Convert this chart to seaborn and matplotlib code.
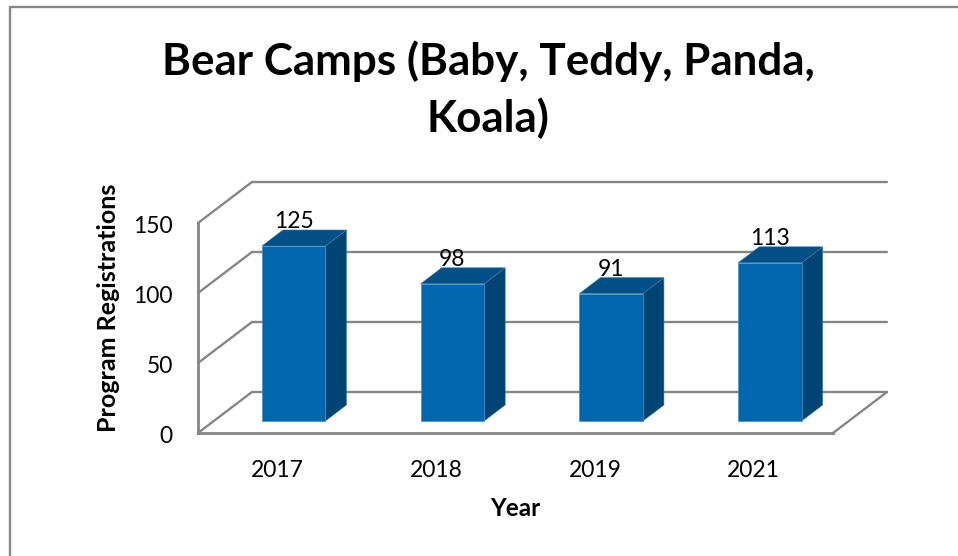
import matplotlib
matplotlib.use("Agg")
import matplotlib.pyplot as plt
from matplotlib.patches import Polygon
from matplotlib.transforms import ScaledTranslation
import seaborn as sns
import pandas as pd

years = ["2017", "2018", "2019", "2021"]
registrations = [125, 98, 91, 113]
y_ticks = [0, 50, 100, 150]
title = "Bear Camps (Baby, Teddy, Panda,\nKoala)"
x_label = "Year"
y_label = "Program Registrations"

W, H = 958, 556
FRONT, SIDE, TOP = "#0066AE", "#004473", "#004F87"
GRID = "#868686"

sns.set_theme(style="white")
plt.rcParams["font.family"] = ["Lato", "DejaVu Sans"]

fig = plt.figure(figsize=(W / 100, H / 100), dpi=100)
L, R, T, B = 198, 833, 223, 433
ax = fig.add_axes([L / W, 1 - B / H, (R - L) / W, (B - T) / H])
ax.patch.set_alpha(0)


def shifted(dx, dy):
    """Data transform moved by a pixel offset (dy measured downward)."""
    return ax.transData + ScaledTranslation(dx / 100, -dy / 100, fig.dpi_scale_trans)


df = pd.DataFrame({"year": years, "n": registrations})
sns.barplot(data=df, x="year", y="n", color=FRONT, saturation=1, width=63.5 / 158.75, ax=ax, zorder=4)
ax.set_xlim(-0.5, 3.5)
ax.set_ylim(0, 150)
ax.set_xlabel("")
ax.set_ylabel("")

WALL_DX, WALL_DY = 54, -41
wall = shifted(WALL_DX, WALL_DY)
to_data = ax.transData.inverted()


def through(tr_a, pa, tr_b, pb, **kw):
    a = to_data.transform(tr_a.transform(pa))
    b = to_data.transform(tr_b.transform(pb))
    ax.plot([a[0], b[0]], [a[1], b[1]], clip_on=False, color=GRID, lw=1.7,
            solid_capstyle="round", **kw)


for v in y_ticks:
    ax.plot([-0.5, 3.5], [v, v], color=GRID, lw=1.7, transform=wall, clip_on=False, zorder=1)
    through(ax.transData, (-0.5, v), wall, (-0.5, v), zorder=1)
through(ax.transData, (3.5, 0), wall, (3.5, 0), zorder=1)

ax.set_xlim(-0.5, 3.5)
ax.set_ylim(0, 150)
sns.despine(ax=ax, top=True, right=True)
for s in ("left", "bottom"):
    ax.spines[s].set_color(GRID)
    ax.spines[s].set_linewidth(2)
    ax.spines[s].set_zorder(2)

BAR_DX, BAR_DY = 16.3, -12
DEPTH_X, DEPTH_Y = 21, -16
bar_tr = shifted(BAR_DX, BAR_DY)
depth_tr = shifted(BAR_DX + DEPTH_X, BAR_DY + DEPTH_Y)


def pts(coords):
    return [to_data.transform(tr.transform(c)) for tr, c in coords]


for bar, v in zip(list(ax.patches), registrations):
    x, w = bar.get_x(), bar.get_width()
    bar.set_transform(bar_tr)
    bar.set_edgecolor("#4A90C4")
    bar.set_linewidth(0.5)
    bar.set_clip_on(False)
    side = pts([(bar_tr, (x + w, 0)), (bar_tr, (x + w, v)), (depth_tr, (x + w, v)), (depth_tr, (x + w, 0))])
    top = pts([(bar_tr, (x, v)), (bar_tr, (x + w, v)), (depth_tr, (x + w, v)), (depth_tr, (x, v))])
    ax.add_patch(Polygon(side, closed=True, fc=SIDE, ec="#3A7AAA", lw=0.4, zorder=3, clip_on=False))
    ax.add_patch(Polygon(top, closed=True, fc=TOP, ec="#3A7AAA", lw=0.4, zorder=3, clip_on=False))
    ax.text(x + w / 2, v, str(v), transform=shifted(BAR_DX, BAR_DY - 24),
            ha="center", va="center", fontsize=16.5, color="black", zorder=6, clip_on=False)

ax.set_xlim(-0.5, 3.5)
ax.set_ylim(0, 150)
ax.set_yticks(y_ticks)
ax.set_yticklabels([str(v) for v in y_ticks])
ax.tick_params(axis="both", length=0, labelsize=16.5, labelcolor="black")
ax.tick_params(axis="y", pad=18)
ax.tick_params(axis="x", pad=19.5)
for lab in ax.get_yticklabels():
    lab.set_transform(lab.get_transform() + ScaledTranslation(0, -1.5 / 100, fig.dpi_scale_trans))

fig.text(515 / W, 1 - 508 / H, x_label, ha="center", va="center", fontsize=17.5, fontweight="bold", color="black")
fig.text(109 / W, 1 - 308 / H, y_label, ha="center", va="center", rotation=90, fontsize=18,
         fontweight="bold", color="black")
fig.text(488 / W, 1 - 89.5 / H, title, ha="center", va="center", fontsize=31.7, fontweight="bold",
         color="black", linespacing=1.45)

fig.add_artist(plt.Line2D([9.5 / W, 9.5 / W, 1], [0, 1 - 6.5 / H, 1 - 6.5 / H], color=GRID, lw=1.7, zorder=0))

fig.savefig("out.png", dpi=100)
